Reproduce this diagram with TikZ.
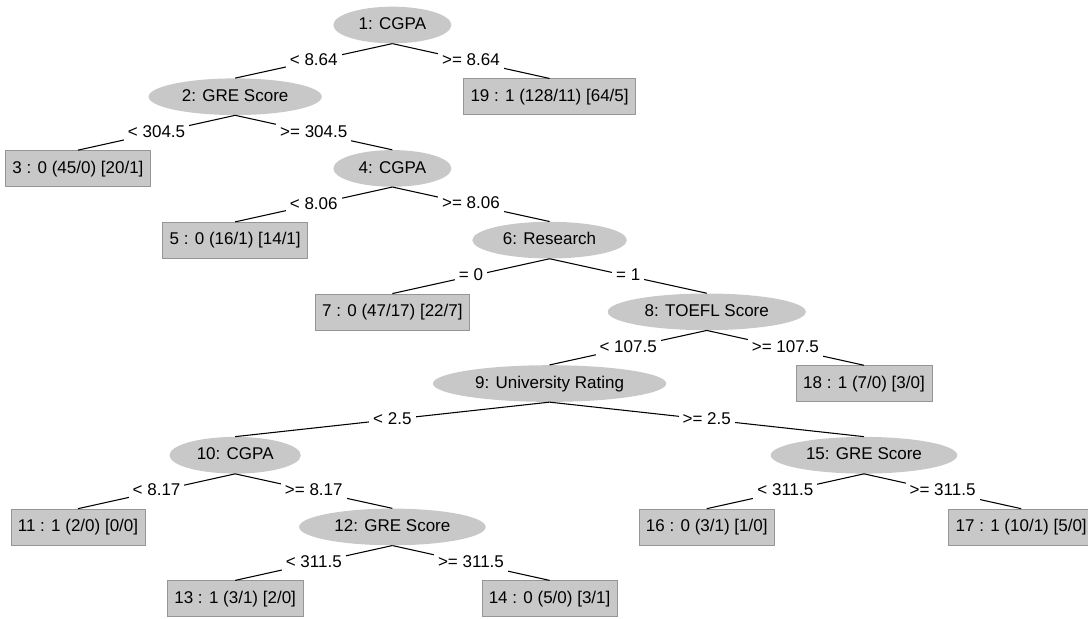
\documentclass[tikz,border=0pt]{standalone}
\usepackage{fontspec}
\setmainfont{Liberation Sans}
\definecolor{wekaGray}{RGB}{200, 200, 200}
\definecolor{wekaEdge}{RGB}{150, 150, 150}
\usepackage{tikz}
\usetikzlibrary{shapes.geometric}

\begin{document}
\begin{tikzpicture}[
    x=4.1436cm, y=1.890cm,
    font=\fontsize{12.75}{15}\selectfont,
    split/.style={ellipse, fill=wekaGray, minimum height=27.5pt, inner xsep=6pt,
                  inner ysep=0pt, text height=9.5pt, text depth=2.5pt},
    leaf/.style={draw=wekaEdge, fill=wekaGray, minimum height=27pt, inner xsep=5.25pt,
                 text height=9.5pt, text depth=2.5pt},
    cond/.style={fill=white, inner sep=3pt, text height=9.5pt, text depth=2.5pt},
    edge/.style={black, line width=0.8pt}
  ]
    \useasboundingbox (-0.496, 0.349) rectangle (6.425, -8.271);

    % Root
    \node[split] (n1) at (2, 0) {1: CGPA};

    % Level 1
    \node[split] (n2) at (1, -1) {2: GRE Score};
    \node[leaf] (n19) at (3, -1) {19 : 1 (128/11) [64/5]};

    % Level 2
    \node[leaf] (n3) at (0, -2) {3 : 0 (45/0) [20/1]};
    \node[split] (n4) at (2, -2) {4: CGPA};

    % Level 3
    \node[leaf] (n5) at (1, -3) {5 : 0 (16/1) [14/1]};
    \node[split] (n6) at (3, -3) {6: Research};

    % Level 4
    \node[leaf] (n7) at (2, -4) {7 : 0 (47/17) [22/7]};
    \node[split] (n8) at (4, -4) {8: TOEFL Score};

    % Level 5
    \node[split] (n9) at (3, -5) {9: University Rating};
    \node[leaf] (n18) at (5, -5) {18 : 1 (7/0) [3/0]};

    % Level 6
    \node[split] (n10) at (1, -6) {10: CGPA};
    \node[split] (n15) at (5, -6) {15: GRE Score};

    % Level 7
    \node[leaf] (n11) at (0, -7) {11 : 1 (2/0) [0/0]};
    \node[split] (n12) at (2, -7) {12: GRE Score};
    \node[leaf] (n16) at (4, -7) {16 : 0 (3/1) [1/0]};
    \node[leaf] (n17) at (6, -7) {17 : 1 (10/1) [5/0]};

    % Level 8
    \node[leaf] (n13) at (1, -8) {13 : 1 (3/1) [2/0]};
    \node[leaf] (n14) at (3, -8) {14 : 0 (5/0) [3/1]};

    % Splits
    \draw[edge] (n1.south) -- node[cond] {< 8.64} (n2.north);
    \draw[edge] (n1.south) -- node[cond] {>= 8.64} (n19.north);
    \draw[edge] (n2.south) -- node[cond] {< 304.5} (n3.north);
    \draw[edge] (n2.south) -- node[cond] {>= 304.5} (n4.north);
    \draw[edge] (n4.south) -- node[cond] {< 8.06} (n5.north);
    \draw[edge] (n4.south) -- node[cond] {>= 8.06} (n6.north);
    \draw[edge] (n6.south) -- node[cond] {= 0} (n7.north);
    \draw[edge] (n6.south) -- node[cond] {= 1} (n8.north);
    \draw[edge] (n8.south) -- node[cond] {< 107.5} (n9.north);
    \draw[edge] (n8.south) -- node[cond] {>= 107.5} (n18.north);
    \draw[edge] (n9.south) -- node[cond] {< 2.5} (n10.north);
    \draw[edge] (n9.south) -- node[cond] {>= 2.5} (n15.north);
    \draw[edge] (n10.south) -- node[cond] {< 8.17} (n11.north);
    \draw[edge] (n10.south) -- node[cond] {>= 8.17} (n12.north);
    \draw[edge] (n12.south) -- node[cond] {< 311.5} (n13.north);
    \draw[edge] (n12.south) -- node[cond] {>= 311.5} (n14.north);
    \draw[edge] (n15.south) -- node[cond] {< 311.5} (n16.north);
    \draw[edge] (n15.south) -- node[cond] {>= 311.5} (n17.north);
  \end{tikzpicture}
\end{document}
